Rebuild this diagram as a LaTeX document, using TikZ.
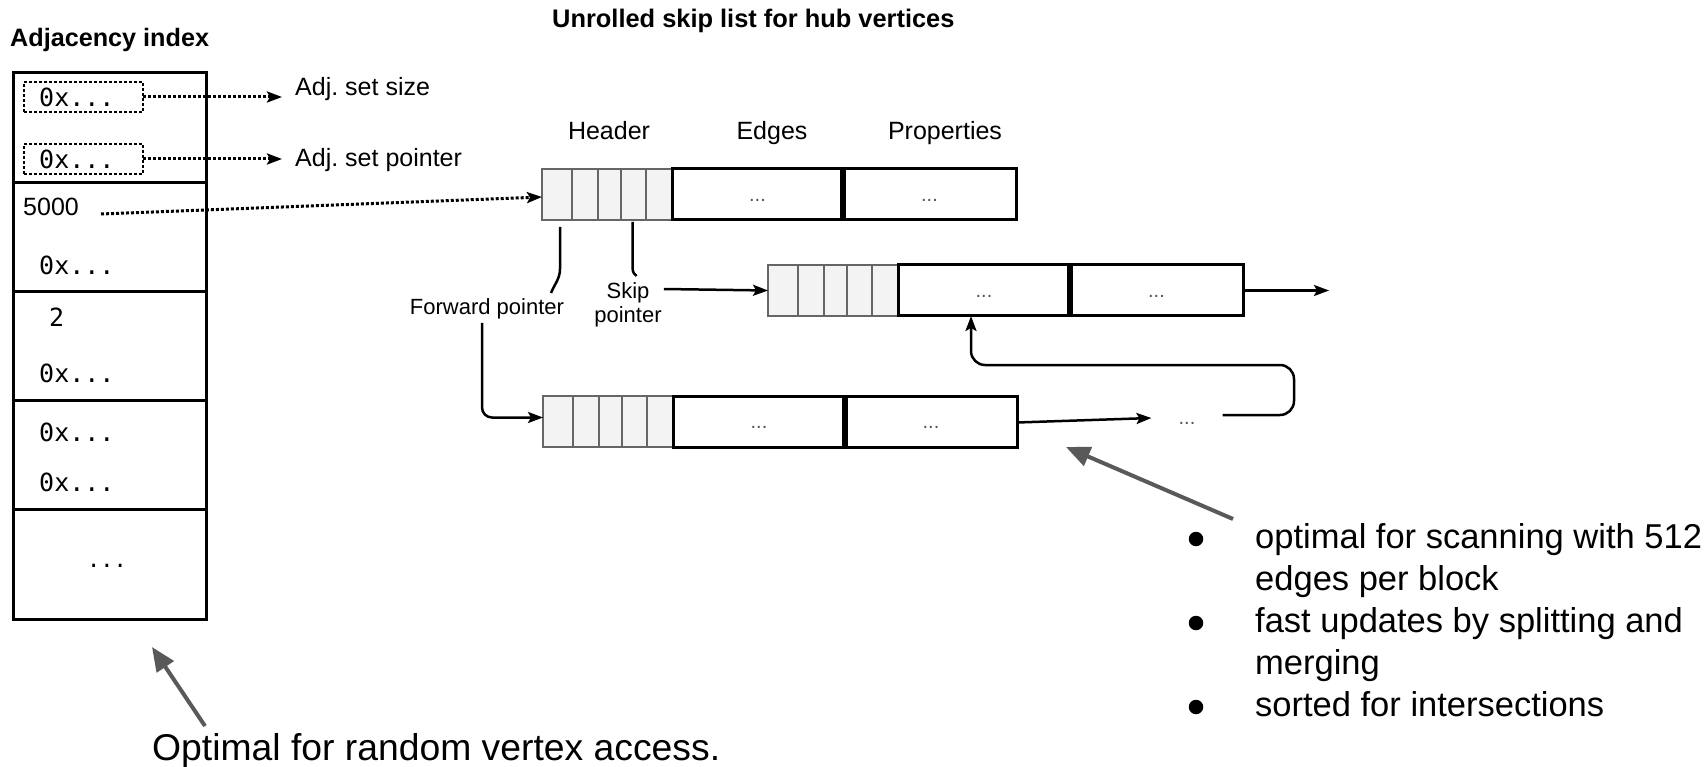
\documentclass[tikz,border=0pt]{standalone}
\usepackage{fontspec}
\setmainfont{Liberation Sans}
\newfontfamily\codefont{DejaVu Sans Mono}
\usetikzlibrary{arrows.meta}
\definecolor{hdrfill}{HTML}{F3F3F3}
\definecolor{hdrline}{HTML}{666666}
\definecolor{notegray}{HTML}{595959}
\definecolor{dotgray}{HTML}{555555}
\frenchspacing
\begin{document}
\begin{tikzpicture}[x=1pt,y=-1pt,
  lbl/.style={font=\fontsize{25}{30}\selectfont, inner sep=0pt},
  plbl/.style={font=\fontsize{22}{24}\selectfont, inner sep=0pt},
  code/.style={font=\codefont\fontsize{25}{30}\selectfont, inner sep=0pt, anchor=west},
  cell/.style={draw, line width=3pt, minimum width=192.5pt, minimum height=109.2pt, inner sep=0pt, outer sep=0pt, anchor=north west},
  dotbox/.style={draw, line width=2.5pt, dash pattern=on 3pt off 2pt, minimum width=119pt, minimum height=30pt, inner sep=0pt, outer sep=0pt},
  hcell/.style={draw=hdrline, fill=hdrfill, line width=2.5pt, minimum height=51pt, inner sep=0pt, outer sep=0pt, anchor=north west},
  blk/.style={draw, line width=3pt, minimum height=51pt, inner sep=0pt, outer sep=0pt, anchor=north west},
  smalldots/.style={font=\fontsize{20}{24}\selectfont, text=dotgray, inner sep=0pt},
  conn/.style={line width=2.5pt, -{Stealth[length=15pt,width=11pt,inset=3pt]}},
  dotconn/.style={line width=3pt, dash pattern=on 3pt off 2pt, -{Stealth[length=15pt,width=11pt,inset=3pt]}},
  grayarrow/.style={draw=notegray, line width=4pt, -{Triangle[length=24pt,width=20pt]}},
  bulletdot/.style={circle, fill=black, minimum size=14.5pt, inner sep=0pt}
]
\useasboundingbox (0,0) rectangle (1708,767);

% ---------- titles ----------
\node[font=\bfseries\fontsize{25.2}{30}\selectfont, inner sep=0pt, anchor=base west] (adjtitle) at (10,47) {Adjacency index};
\node[font=\bfseries\fontsize{25.4}{30}\selectfont, inner sep=0pt, anchor=base west] (skiptitle) at (552,28) {Unrolled skip list for hub vertices};

% ---------- adjacency index column ----------
\node[cell] (c1) at (13.5,73) {};
\node[cell] (c2) at (c1.south west) {};
\node[cell] (c3) at (c2.south west) {};
\node[cell] (c4) at (c3.south west) {};
\node[cell] (c5) at (c4.south west) {};

\node[dotbox] (d1) at (83.5,97) {};
\node[dotbox] (d2) at (83.5,159) {};
\node[code] (v1) at (39,97) {0x...};
\node[code] (v2) at (39,159) {0x...};

\node[lbl, anchor=west] (n5000) at (23,207) {5000};
\node[code] (v3) at (39,265) {0x...};
\node[code] (v4) at (49,317) {2};
\node[code] (v5) at (39,373) {0x...};
\node[code] (v6) at (39,432) {0x...};
\node[code] (v7) at (39,482) {0x...};
\node[font=\codefont\fontsize{22}{26}\selectfont, inner sep=0pt] (v8) at (107,566) {...};

\node[lbl, anchor=base west] (lsize) at (295,96) {Adj. set size};
\node[lbl, anchor=base west] (lptr) at (295,167) {Adj. set pointer};
\draw[dotconn, shorten >=13pt] (d1.east) -- (d1.east -| lsize.west);
\draw[dotconn, shorten >=13pt] (d2.east) -- (d2.east -| lptr.west);

% ---------- column labels ----------
\node[lbl, anchor=base] (hdrlbl) at (609,140) {Header};
\node[lbl, anchor=base] (edglbl) at (772,140) {Edges};
\node[lbl, anchor=base] (prplbl) at (945,140) {Properties};

% ---------- block 1 ----------
\node[hcell, minimum width=30pt] (r1a) at (542,169) {};
\node[hcell, minimum width=26pt] (r1b) at (r1a.north east) {};
\node[hcell, minimum width=23pt] (r1c) at (r1b.north east) {};
\node[hcell, minimum width=25pt] (r1d) at (r1c.north east) {};
\node[hcell, minimum width=26pt] (r1e) at (r1d.north east) {};
\node[blk, minimum width=171pt] (e1) at (r1e.north east) {};
\node[blk, minimum width=173pt] (p1) at (e1.north east) {};
\draw[line width=5.5pt] (e1.north east) -- (e1.south east);
\node[smalldots] at ([yshift=-6pt]e1.center) {...};
\node[smalldots] at ([yshift=-6pt]p1.center) {...};

% ---------- block 2 ----------
\node[hcell, minimum width=30pt] (r2a) at (768,265) {};
\node[hcell, minimum width=26pt] (r2b) at (r2a.north east) {};
\node[hcell, minimum width=23pt] (r2c) at (r2b.north east) {};
\node[hcell, minimum width=25pt] (r2d) at (r2c.north east) {};
\node[hcell, minimum width=26pt] (r2e) at (r2d.north east) {};
\node[blk, minimum width=172pt] (e2) at (r2e.north east) {};
\node[blk, minimum width=173pt] (p2) at (e2.north east) {};
\draw[line width=5.5pt] (e2.north east) -- (e2.south east);
\node[smalldots] at ([yshift=-6pt]e2.center) {...};
\node[smalldots] at ([yshift=-6pt]p2.center) {...};

% ---------- block 3 ----------
\node[hcell, minimum width=30pt] (r3a) at (543,396) {};
\node[hcell, minimum width=26pt] (r3b) at (r3a.north east) {};
\node[hcell, minimum width=23pt] (r3c) at (r3b.north east) {};
\node[hcell, minimum width=25pt] (r3d) at (r3c.north east) {};
\node[hcell, minimum width=26pt] (r3e) at (r3d.north east) {};
\node[blk, minimum width=172pt] (e3) at (r3e.north east) {};
\node[blk, minimum width=172pt] (p3) at (e3.north east) {};
\draw[line width=5.5pt] (e3.north east) -- (e3.south east);
\node[smalldots] at ([yshift=-6pt]e3.center) {...};
\node[smalldots] at ([yshift=-6pt]p3.center) {...};

% ---------- pointer labels ----------
\node[plbl, anchor=base] (fwdl) at (487,315) {Forward pointer};
\node[plbl, align=center, anchor=north] (skipl) at (628,282) {Skip\\pointer};

% ---------- connectors ----------
\draw[dotconn] ([xshift=22pt,yshift=-7pt]n5000.east) -- ([yshift=-2.5pt]r1a.west);
\draw[line width=2.5pt] ([xshift=3pt,yshift=-7pt]r1a.south) -- ++(0,42)
  .. controls +(0,10) and +(3,-8) .. ++(-9,24);
\draw[line width=2.5pt] ([xshift=-1pt,yshift=-2pt]r1d.south) -- ++(0,45)
  .. controls +(0,6) and +(-2,-2) .. ++(4,9);
\draw[conn] ([xshift=2pt,yshift=-7pt]skipl.north east) -- (r2a.west);
\draw[conn, rounded corners=10pt] ([xshift=-5pt,yshift=-3pt]fwdl.south) |- ([yshift=4pt]r3a.west);

\coordinate (r2end) at (1329,290.5);
\draw[conn] (p2.east) -- (r2end);

\node[smalldots, inner xsep=27pt] (more) at (1187,423) {...};
\draw[conn] ([yshift=-1pt]p3.east) -- ([yshift=5pt]more.west);
\coordinate (loopcorner) at (1294,365);
\draw[conn, rounded corners=14pt] ([yshift=8pt]more.east) -| (loopcorner) -| ([xshift=-13pt]e2.south);

% ---------- notes ----------
\node[bulletdot] (bul1) at (1196,539) {};
\node[bulletdot] (bul2) at (1196,623) {};
\node[bulletdot] (bul3) at (1196,707) {};
\node[anchor=base west, inner sep=0pt, font=\fontsize{34.5}{42}\selectfont] (items) at (1255,548)
  {\begin{tabular}[t]{@{}l@{}}optimal for scanning with 512\\edges per block\\fast updates by splitting and\\merging\\sorted for intersections\end{tabular}};
\coordinate (noteAtail) at (1233,519);
\coordinate (noteAtip) at (1066,447);
\draw[grayarrow] (noteAtail) -- (noteAtip);

\node[anchor=base west, inner sep=0pt, font=\fontsize{37.3}{44}\selectfont] (optnote) at (152,760) {Optimal for random vertex access.};
\coordinate (noteBtail) at (205,726);
\coordinate (noteBtip) at (152,647);
\draw[grayarrow] (noteBtail) -- (noteBtip);
\end{tikzpicture}
\end{document}
